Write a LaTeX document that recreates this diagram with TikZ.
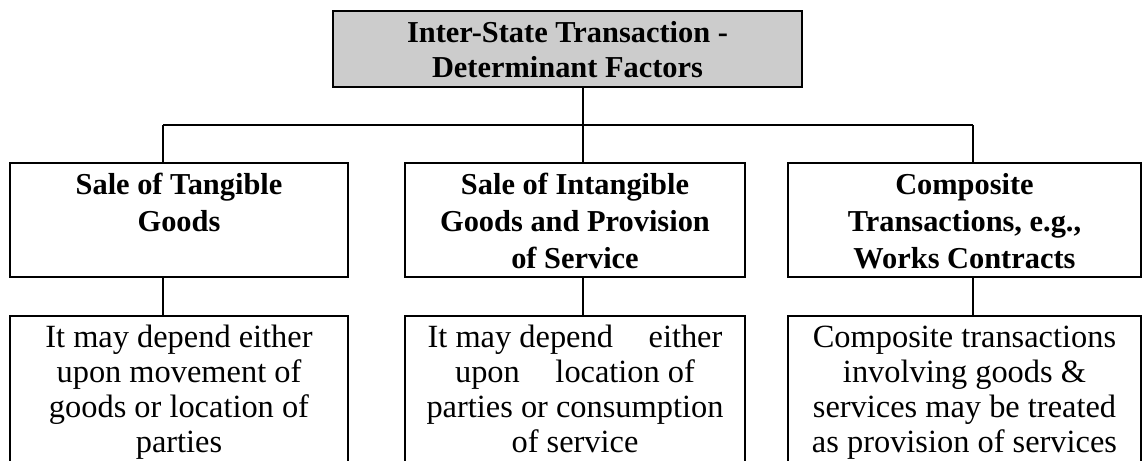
\documentclass[tikz,border=0pt]{standalone}
\usepackage{fontspec}
\setmainfont{Liberation Serif}
\definecolor{headgray}{HTML}{CCCCCC}
\tikzset{
  box/.style={draw,inner sep=0pt,execute at end node={\end{minipage}}},
  headbox/.style={box,fill=headgray,font=\bfseries\fontsize{15.2}{17.5}\selectfont,
    execute at begin node={\begin{minipage}[c][38pt][t]{#1}\centering\rule{0pt}{15.5pt}}},
  catbox/.style={box,font=\bfseries\fontsize{15.2}{18.5}\selectfont,
    execute at begin node={\begin{minipage}[c][57pt][t]{#1}\centering\rule{0pt}{15.5pt}}},
  notebox/.style={box,font=\fontsize{16.2}{17.5}\selectfont,
    execute at begin node={\begin{minipage}[c][78pt][t]{#1}\centering\rule{0pt}{15.5pt}}},
}
\begin{document}
\begin{tikzpicture}[x=0.5pt,y=-0.5pt,line width=0.85pt]
\useasboundingbox (0,0) rectangle (1142,461);
\node[headbox=234.5pt](head) at (567.5,49){Inter-State Transaction -\\Determinant Factors};
\node[catbox=169pt](cat1) at (179,220){Sale of Tangible\\Goods};
\node[catbox=170pt](cat2) at (575,220){Sale of Intangible\\Goods and Provision\\of Service};
\node[catbox=176.5pt](cat3) at (964.5,220){Composite\\Transactions, e.g.,\\Works Contracts};
\node[notebox=169pt](note1) at (179,394){It may depend either\\upon movement of\\goods or location of\\parties};
\node[notebox=170pt](note2) at (575,394){It may depend\hspace{1.1em}either\\upon\hspace{1.1em}location of\\parties or consumption\\of service};
\node[notebox=176.5pt](note3) at (964.5,394){Composite transactions\\involving goods \&\\services may be treated\\as provision of services};
\coordinate (j1) at (163,125);
\coordinate (j2) at (583,125);
\coordinate (j3) at (973,125);
\draw (head.south -| j2)--(j2);
\draw (j1)--(j3);
\foreach \i in {1,2,3}{
\draw (j\i)--(j\i |- cat\i.north);
\draw (j\i |- cat\i.south)--(j\i |- note\i.north);
}
\end{tikzpicture}
\end{document}
